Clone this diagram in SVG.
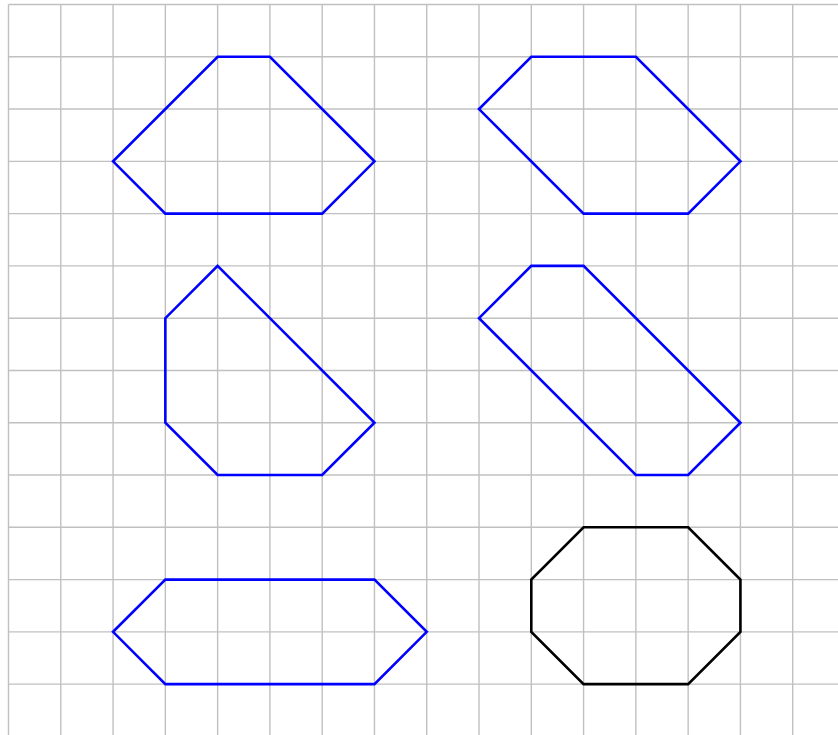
<svg xmlns="http://www.w3.org/2000/svg" width="838" height="735" viewBox="0 0 838 735">
<style>
.grid line{stroke:#c0c0c0;stroke-width:1.4}
.shape{fill:none;stroke:#0000ff;stroke-width:2.6;stroke-linejoin:miter}
.black{stroke:#000000}
</style>
<rect width="838" height="735" fill="#ffffff"/>
<g id="grid" class="grid">
<line x1="8.5" y1="4.5" x2="8.5" y2="735"/>
<line x1="60.78" y1="4.5" x2="60.78" y2="735"/>
<line x1="113.06" y1="4.5" x2="113.06" y2="735"/>
<line x1="165.34" y1="4.5" x2="165.34" y2="735"/>
<line x1="217.62" y1="4.5" x2="217.62" y2="735"/>
<line x1="269.9" y1="4.5" x2="269.9" y2="735"/>
<line x1="322.18" y1="4.5" x2="322.18" y2="735"/>
<line x1="374.46" y1="4.5" x2="374.46" y2="735"/>
<line x1="426.74" y1="4.5" x2="426.74" y2="735"/>
<line x1="479.02" y1="4.5" x2="479.02" y2="735"/>
<line x1="531.3" y1="4.5" x2="531.3" y2="735"/>
<line x1="583.58" y1="4.5" x2="583.58" y2="735"/>
<line x1="635.86" y1="4.5" x2="635.86" y2="735"/>
<line x1="688.14" y1="4.5" x2="688.14" y2="735"/>
<line x1="740.42" y1="4.5" x2="740.42" y2="735"/>
<line x1="792.7" y1="4.5" x2="792.7" y2="735"/>
<line x1="8.5" y1="4.5" x2="838" y2="4.5"/>
<line x1="8.5" y1="56.78" x2="838" y2="56.78"/>
<line x1="8.5" y1="109.06" x2="838" y2="109.06"/>
<line x1="8.5" y1="161.34" x2="838" y2="161.34"/>
<line x1="8.5" y1="213.62" x2="838" y2="213.62"/>
<line x1="8.5" y1="265.9" x2="838" y2="265.9"/>
<line x1="8.5" y1="318.18" x2="838" y2="318.18"/>
<line x1="8.5" y1="370.46" x2="838" y2="370.46"/>
<line x1="8.5" y1="422.74" x2="838" y2="422.74"/>
<line x1="8.5" y1="475.02" x2="838" y2="475.02"/>
<line x1="8.5" y1="527.3" x2="838" y2="527.3"/>
<line x1="8.5" y1="579.58" x2="838" y2="579.58"/>
<line x1="8.5" y1="631.86" x2="838" y2="631.86"/>
<line x1="8.5" y1="684.14" x2="838" y2="684.14"/>
</g>
<g id="shape1"><polygon class="shape" points="217.62,56.78 269.9,56.78 374.46,161.34 322.18,213.62 165.34,213.62 113.06,161.34"/></g>
<g id="shape2"><polygon class="shape" points="531.3,56.78 635.86,56.78 740.42,161.34 688.14,213.62 583.58,213.62 479.02,109.06"/></g>
<g id="shape3"><polygon class="shape" points="217.62,265.9 374.46,422.74 322.18,475.02 217.62,475.02 165.34,422.74 165.34,318.18"/></g>
<g id="shape4"><polygon class="shape" points="531.3,265.9 583.58,265.9 740.42,422.74 688.14,475.02 635.86,475.02 479.02,318.18"/></g>
<g id="shape5"><polygon class="shape" points="165.34,579.58 374.46,579.58 426.74,631.86 374.46,684.14 165.34,684.14 113.06,631.86"/></g>
<g id="shape6"><polygon class="shape black" points="583.58,527.3 688.14,527.3 740.42,579.58 740.42,631.86 688.14,684.14 583.58,684.14 531.3,631.86 531.3,579.58"/></g>
</svg>
